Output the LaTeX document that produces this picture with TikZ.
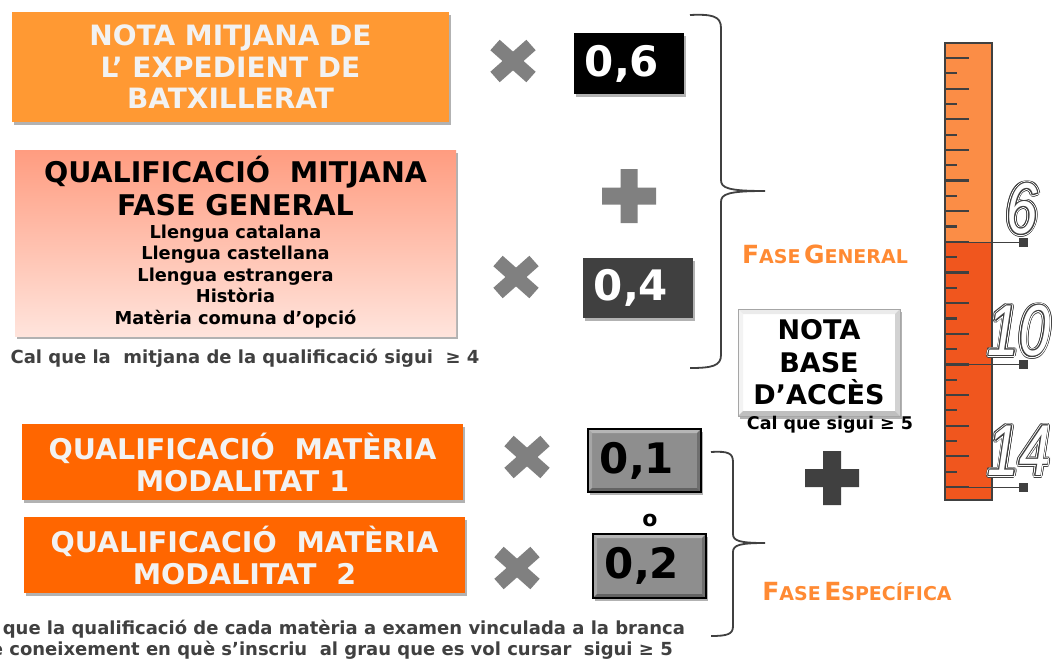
\documentclass[tikz,border=0pt]{standalone}
\usepackage{fontspec}
\setmainfont{DejaVu Sans}
\newfontfamily\numfont{Liberation Sans}[FakeStretch=0.78]
\usetikzlibrary{shadows}
\definecolor{orA}{HTML}{FF9933}
\definecolor{orB}{HTML}{FF6600}
\definecolor{salT}{HTML}{FF9C80}
\definecolor{salB}{HTML}{FFE4DC}
\definecolor{txW}{HTML}{F2F2F2}
\definecolor{dg}{HTML}{404040}
\definecolor{mg}{HTML}{808080}
\definecolor{vg}{HTML}{8E8E8E}
\definecolor{faseC}{HTML}{FF8A33}
\definecolor{rulT}{HTML}{FB8D46}
\definecolor{rulB}{HTML}{F0561E}
\newcommand\fsc[2]{{\fontsize{25}{25}\selectfont #1}{\fontsize{19}{19}\selectfont #2}}
\newcommand\ringcp[3]{\foreach \a in {0,22.5,...,337.5}{\pgfmathsetlengthmacro\dx{#2*cos(\a)}\pgfmathsetlengthmacro\dy{#2*sin(\a)}\rlap{\hspace*{\dx}\raisebox{\dy}{\color{#1}#3}}}}
\newcommand\rulnum[1]{\fontsize{72}{72}\selectfont\numfont\mdseries\itshape
  \ringcp{dg}{2.7}{#1}\ringcp{white}{1.8}{#1}\ringcp{dg}{0.9}{#1}{\color{white}#1}}
\begin{document}
\begin{tikzpicture}[x=1pt,y=-1pt,
  every node/.style={font=\bfseries, align=center, inner sep=0pt},
  shad/.style={drop shadow={shadow xshift=2pt, shadow yshift=-3pt, opacity=.3, fill=black}},
  bigbox/.style={shad, minimum width=#1},
  valbox/.style={shad, text=white, font=\bfseries\fontsize{42}{42}\selectfont},
  bevel/.style n args={3}{path picture={
     \fill[#1] (path picture bounding box.north west) -- (path picture bounding box.north east)
       -- ([xshift=-#3,yshift=-#3]path picture bounding box.north east) -- ([xshift=#3,yshift=-#3]path picture bounding box.north west) -- cycle;
     \fill[#1, opacity=.6] (path picture bounding box.north west) -- (path picture bounding box.south west)
       -- ([xshift=#3,yshift=#3]path picture bounding box.south west) -- ([xshift=#3,yshift=-#3]path picture bounding box.north west) -- cycle;
     \fill[#2] (path picture bounding box.south west) -- (path picture bounding box.south east)
       -- ([xshift=-#3,yshift=#3]path picture bounding box.south east) -- ([xshift=#3,yshift=#3]path picture bounding box.south west) -- cycle;
     \fill[#2, opacity=.7] (path picture bounding box.north east) -- (path picture bounding box.south east)
       -- ([xshift=-#3,yshift=#3]path picture bounding box.south east) -- ([xshift=-#3,yshift=-#3]path picture bounding box.north east) -- cycle;
  }},
  bevbox/.style={shad, draw=black, line width=1.2pt, fill=vg, bevel={white!35!vg}{black!30!vg}{4pt}, font=\bfseries\fontsize{42}{42}\selectfont},
  xmark/.style={draw=mg, line width=14pt},
  brace/.style={draw=dg, line width=1.8pt},
  note/.style={text=dg, font=\bfseries\fontsize{18}{18}\selectfont},
  fase/.style={text=faseC, font=\bfseries},
  tickline/.style={draw=dg, line width=2.2pt},
  markline/.style={draw=dg, line width=0.8pt}
]
\useasboundingbox (0,0) rectangle (1052,659);
\clip (0,0) rectangle (1052,659);
\fill[white] (0,0) rectangle (1052,659);

% left boxes
\node[bigbox=437, minimum height=110, fill=orA, text=txW, font=\bfseries\fontsize{28}{31.5}\selectfont] (b1) at (230.5,67)
  {NOTA MITJANA DE\\L’ EXPEDIENT DE\\BATXILLERAT};
\node[bigbox=441, minimum height=186, top color=salT, bottom color=salB] (b2) at (235.5,243) {};
\node[font=\bfseries\fontsize{28.5}{33}\selectfont] (b2t) at (235.5,185.5)
  {QUALIFICACIÓ\ \ MITJANA\\FASE GENERAL};
\node[font=\bfseries\fontsize{17.8}{21.5}\selectfont] (b2l) at (235.5,276.5)
  {Llengua catalana\\Llengua castellana\\Llengua estrangera\\Història\\Matèria comuna d’opció};
\node[note] (n1) at (245,358) {Cal que la\ \ mitjana de la qualificació sigui\ \ ≥ 4};
\node[bigbox=441, minimum height=76, fill=orB, text=txW, font=\bfseries\fontsize{28.5}{32}\selectfont] (b3) at (242.5,462)
  {QUALIFICACIÓ\ \ MATÈRIA\\MODALITAT 1};
\node[bigbox=441, minimum height=76, fill=orB, text=txW, font=\bfseries\fontsize{28.5}{32}\selectfont] (b4) at (244.5,555)
  {QUALIFICACIÓ\ \ MATÈRIA\\MODALITAT\ \ 2};
\node[note, anchor=east] (n2) at (685,629) {Cal que la qualificació de cada matèria a examen vinculada a la branca};
\node[note, anchor=east] (n3) at (673,650) {de coneixement en què s’inscriu\ \ al grau que es vol cursar\ \ sigui ≥ 5};

% multipliers
\path[xmark] (513,61) +(-18,-16) -- +(18,16) +(-18,16) -- +(18,-16);
\path[xmark] (516,277) +(-18,-16) -- +(18,16) +(-18,16) -- +(18,-16);
\path[xmark] (527,457) +(-18,-16) -- +(18,16) +(-18,16) -- +(18,-16);
\path[xmark] (517,568) +(-18,-16) -- +(18,16) +(-18,16) -- +(18,-16);
\fill[mg] (602,187.5) rectangle (656,204.5) (620.5,169) rectangle (637.5,223);
\fill[dg] (805,469) rectangle (859,487) (823,451) rectangle (841,505);

% value boxes
\node[valbox, fill=black, minimum width=110, minimum height=61] (v6) at (629,63.5) {0,6\hspace{14pt}};
\node[valbox, fill=dg, minimum width=110, minimum height=60] (v4) at (638,288) {0,4\hspace{14pt}};
\node[bevbox, minimum width=113, minimum height=63] (v1) at (644.5,460.5) {0,1\hspace{15pt}};
\node[bevbox, minimum width=113, minimum height=64] (v2) at (649.5,566) {0,2\hspace{15pt}};
\node[font=\bfseries\fontsize{22}{22}\selectfont] (o) at (650,520) {o};

% braces
\coordinate (t1) at (765,191);
\draw[brace] (690,15) .. controls (712,14) and (721,16) .. (721,28) -- (721,180)
  .. controls (721,188) and (728,191) .. (t1)
  .. controls (728,191) and (721,194) .. (721,202) -- (721,355)
  .. controls (721,366) and (712,368) .. (690,368);
\coordinate (t2) at (765,543);
\draw[brace] (711,452) .. controls (728,451) and (733,453) .. (733,462) -- (733,534)
  .. controls (733,541) and (740,543) .. (t2)
  .. controls (740,543) and (733,545) .. (733,552) -- (733,626)
  .. controls (733,634) and (728,636) .. (711,636);
\node[fase] (fg) at (825,254) {\fsc{F}{ASE} \fsc{G}{ENERAL}};
\node[fase] (fe) at (857,592) {\fsc{F}{ASE} \fsc{E}{SPECÍFICA}};

% nota base
\node[shad, fill=white, draw=black!35, line width=1pt, bevel={black!8}{black!25}{5pt}, minimum width=162, minimum height=107,
  font=\bfseries\fontsize{27}{32.5}\selectfont] (nb) at (819,362.5) {NOTA\\BASE\\D’ACCÈS};
\node[font=\bfseries\fontsize{17.5}{17.5}\selectfont] (n4) at (830,425) {Cal que sigui ≥ 5};

% ruler
\fill[rulT] (945,43) rectangle (992,242);
\fill[rulB] (945,242) rectangle (992,500);
\foreach \i in {0,...,28}{
  \pgfmathsetmacro\yy{58+15.32*\i}
  \ifodd\i \draw[tickline] (945,\yy) -- (957,\yy); \else \draw[tickline] (945,\yy) -- (969,\yy); \fi
}
\draw[dg, line width=2pt] (945,43) rectangle (992,500);
\foreach \yy in {242,364.4,487}{
  \draw[markline] (945,\yy) -- (1023,\yy);
  \fill[dg] (1018.5,\yy-4.5) rectangle (1027.5,\yy+4.5);
}
\node (r6) at (1022,209) {\rulnum{6}};
\node (r10) at (1019,331) {\rulnum{10}};
\node (r14) at (1019,451) {\rulnum{14}};
\end{tikzpicture}
\end{document}
